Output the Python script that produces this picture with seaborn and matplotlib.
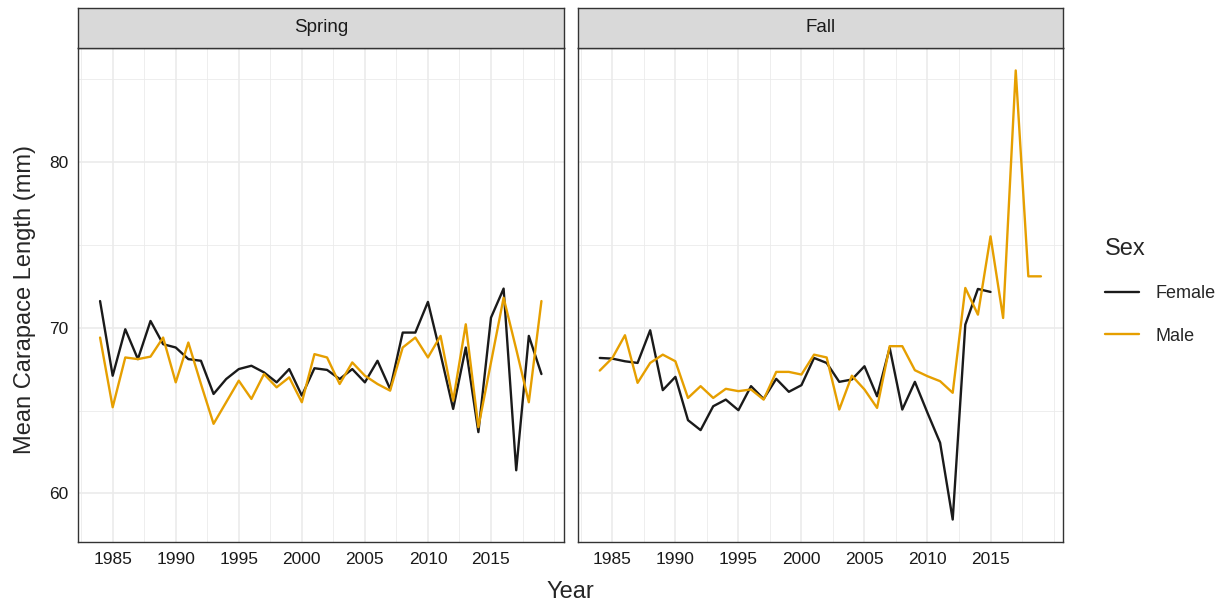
# =========================
# MEAN CARAPACE LENGTH BY SEASON AND SEX
# two facets (Spring / Fall), ggplot theme_bw look
# =========================

import numpy as np
import pandas as pd
import matplotlib
matplotlib.use("Agg")
import matplotlib.pyplot as plt
from matplotlib.ticker import MultipleLocator
import seaborn as sns


# =========================
# 1. DATA
# =========================
spring_years = list(range(1984, 2020))
spring_female = [71.6, 67.1, 69.9, 68.1, 70.4, 69.0, 68.8, 68.1, 68.0, 66.0,
                 66.9, 67.5, 67.7, 67.3, 66.7, 67.5, 65.9, 67.55, 67.45, 66.9,
                 67.5, 66.7, 68.0, 66.3, 69.7, 69.7, 71.55, 68.4, 65.1, 68.8,
                 63.7, 70.6, 72.35, 61.4, 69.5, 67.2]
spring_male = [69.4, 65.2, 68.2, 68.1, 68.25, 69.4, 66.7, 69.1, 66.6, 64.2,
               65.5, 66.8, 65.7, 67.2, 66.4, 67.0, 65.5, 68.4, 68.2, 66.6,
               67.9, 67.1, 66.6, 66.2, 68.8, 69.4, 68.2, 69.5, 65.6, 70.2,
               64.0, 67.9, 71.8, 68.7, 65.5, 71.6]

fall_years_female = list(range(1984, 2016))
fall_female = [68.17, 68.13, 67.97, 67.87, 69.84, 66.23, 67.03, 64.42, 63.82, 65.26,
               65.66, 65.02, 66.47, 65.7, 66.91, 66.13, 66.53, 68.17, 67.87, 66.73,
               66.87, 67.67, 65.86, 68.78, 65.06, 66.73, 64.86, 63.06, 58.43, 70.18,
               72.33, 72.15]
fall_years_male = list(range(1984, 2020))
fall_male = [67.41, 68.17, 69.54, 66.67, 67.87, 68.37, 67.97, 65.76, 66.47, 65.76,
             66.31, 66.17, 66.27, 65.66, 67.33, 67.33, 67.17, 68.37, 68.2, 65.06,
             67.1, 66.27, 65.16, 68.88, 68.88, 67.43, 67.07, 66.77, 66.07, 72.39,
             70.78, 75.5, 70.58, 85.5, 73.09, 73.09]

seasons = ["Spring", "Fall"]
sexes = ["Female", "Male"]
x_ticks = [1985, 1990, 1995, 2000, 2005, 2010, 2015]
y_ticks = [60, 70, 80]

frames = [
    pd.DataFrame({"Season": "Spring", "Sex": "Female", "Year": spring_years, "Length": spring_female}),
    pd.DataFrame({"Season": "Spring", "Sex": "Male", "Year": spring_years, "Length": spring_male}),
    pd.DataFrame({"Season": "Fall", "Sex": "Female", "Year": fall_years_female, "Length": fall_female}),
    pd.DataFrame({"Season": "Fall", "Sex": "Male", "Year": fall_years_male, "Length": fall_male}),
]
df = pd.concat(frames, ignore_index=True)


# =========================
# 2. STYLE
# =========================
sns.set_theme(style="white")
plt.rcParams["font.family"] = ["Liberation Sans", "DejaVu Sans"]

palette = {"Female": "#1A1A1A", "Male": "#E69F00"}
border = "#333333"
grid_col = "#EBEBEB"

W, H = 1232, 607
fig = plt.figure(figsize=(W / 100, H / 100), dpi=100)


def box(x0, y0, x1, y1):
    # pixel box (top-left origin) -> figure fraction rect
    return [x0 / W, 1 - y1 / H, (x1 - x0) / W, (y1 - y0) / H]


# ggplot-like 5% expansion of the data range
xmin, xmax = df["Year"].min(), df["Year"].max()
ymin, ymax = df["Length"].min(), df["Length"].max()
xpad = (xmax - xmin) * 0.05
ypad = (ymax - ymin) * 0.05

panels = [(78, 563.5), (577.7, 1063)]
axes = []

# =========================
# 3. PANELS
# =========================
for i, (season, (x0, x1)) in enumerate(zip(seasons, panels)):
    ax = fig.add_axes(box(x0, 48, x1, 542))
    sub = df[df["Season"] == season]
    sns.lineplot(data=sub, x="Year", y="Length", hue="Sex", hue_order=sexes,
                 palette=palette, linewidth=1.7, legend=False, ax=ax)

    ax.set_xlim(xmin - xpad, xmax + xpad)
    ax.set_ylim(ymin - ypad, ymax + ypad)
    ax.set_xticks(x_ticks)
    ax.xaxis.set_minor_locator(MultipleLocator(2.5))
    ax.set_yticks(y_ticks)
    ax.yaxis.set_minor_locator(MultipleLocator(5))

    ax.grid(which="major", color=grid_col, linewidth=1.2)
    ax.grid(which="minor", color=grid_col, linewidth=0.6)
    ax.set_axisbelow(True)
    ax.set_facecolor("white")
    for sp in ax.spines.values():
        sp.set_color(border)
        sp.set_linewidth(1.0)

    ax.tick_params(which="major", length=4, width=1, color=border,
                   labelsize=12.5, labelcolor="#1A1A1A", pad=3)
    ax.tick_params(which="minor", length=0)
    ax.set_xlabel("")
    ax.set_ylabel("")
    if i == 1:
        ax.tick_params(axis="y", which="both", length=0, labelleft=False)
    axes.append(ax)

    # facet strip
    st = fig.add_axes(box(x0, 7.5, x1, 48))
    st.set_facecolor("#D9D9D9")
    st.set_xticks([])
    st.set_yticks([])
    for sp in st.spines.values():
        sp.set_color(border)
        sp.set_linewidth(1.0)
    st.text(0.5, 0.5, season, ha="center", va="center", fontsize=13.5,
            color="#1A1A1A", transform=st.transAxes)


# =========================
# 4. AXIS TITLES + LEGEND
# =========================
fig.text(25 / W, 1 - 300 / H, "Mean Carapace Length (mm)", rotation=90,
         ha="center", va="center", fontsize=17)
fig.text(570 / W, 1 - 592 / H, "Year", ha="center", va="center", fontsize=17)

handles = [plt.Line2D([], [], color=palette[s], linewidth=1.7) for s in sexes]
leg = fig.legend(handles, sexes, title="Sex", loc="upper left",
                 bbox_to_anchor=(1105 / W, 1 - 238 / H), frameon=False,
                 fontsize=13, title_fontsize=17, handlelength=1.9,
                 handletextpad=0.9, labelspacing=1.4, borderpad=0,
                 borderaxespad=0, alignment="left")

fig.savefig("out.png", dpi=100)
